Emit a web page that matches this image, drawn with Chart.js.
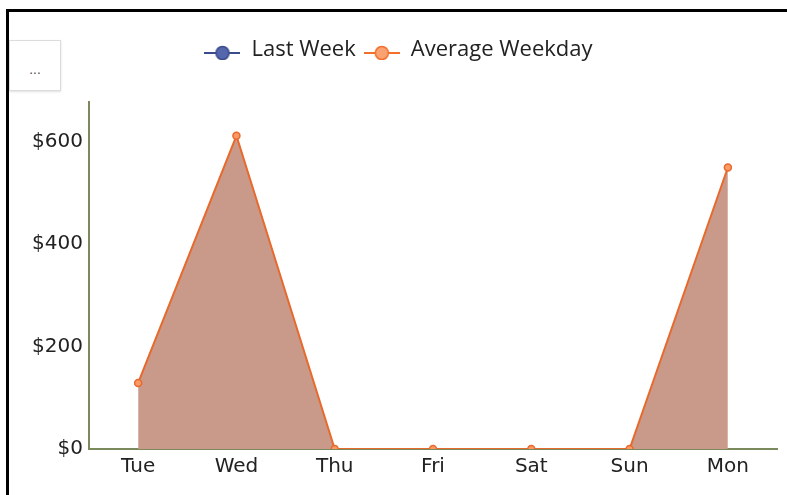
<!DOCTYPE html>
<html>
<head>
<meta charset="utf-8">
<script src="https://cdn.jsdelivr.net/npm/chart.js@4.4.1/dist/chart.umd.min.js"></script>
<style>
  html, body { margin: 0; padding: 0; background: #fff; }
  #frame {
    position: absolute; left: 6px; top: 9px; width: 790px; height: 500px;
    border-left: 3px solid #000; border-top: 3px solid #000;
  }
  #more {
    position: absolute; left: 9px; top: 40px; width: 50px; height: 49px;
    border: 1px solid #dcdcdc; background: #fff;
    box-shadow: 0 1px 2px rgba(0,0,0,0.12);
    font: 12px "DejaVu Sans", sans-serif; color: #444;
    text-align: center; line-height: 58px;
  }
  #wrap { position: absolute; left: 0; top: 0; width: 787px; height: 495px; }
</style>
</head>
<body>
<div id="frame"></div>
<div id="more">...</div>
<div id="wrap"><canvas id="chart"></canvas></div>
<script>
const days = ['Tue', 'Wed', 'Thu', 'Fri', 'Sat', 'Sun', 'Mon'];
const lastWeek = [null, null, null, null, null, null, null];
const averageWeekday = [129, 612, 0, 0, 0, 0, 550];
const yTicks = [0, 200, 400, 600];
const yMax = 678;

// legend marker: short line with a circle in the middle
function legendMarker(lineColor, fill, stroke) {
  const c = document.createElement('canvas');
  c.width = 36;
  c.height = 20;
  const g = c.getContext('2d');
  g.strokeStyle = lineColor;
  g.lineWidth = 2;
  g.beginPath();
  g.moveTo(0, 13);
  g.lineTo(36, 13);
  g.stroke();
  g.beginPath();
  g.arc(18, 13, 6.5, 0, Math.PI * 2);
  g.fillStyle = fill;
  g.fill();
  g.lineWidth = 1.5;
  g.strokeStyle = stroke;
  g.stroke();
  return c;
}
const blueMarker = legendMarker('#3b4c8c', '#5467ad', '#3b4c8c');
const orangeMarker = legendMarker('#f26f2c', '#fba272', '#f26f2c');

const axisColor = '#7a8a5c';
const textColor = '#222';

new Chart(document.getElementById('chart'), {
  type: 'line',
  data: {
    labels: days,
    datasets: [{
      label: 'Last Week',
      data: lastWeek,
      borderColor: '#3b4c8c',
      backgroundColor: '#5467ad'
    }, {
      label: 'Average Weekday',
      data: averageWeekday,
      borderColor: '#e8692c',
      borderWidth: 2,
      backgroundColor: '#c99a8a',
      fill: 'origin',
      tension: 0,
      pointRadius: 3.5,
      pointBackgroundColor: '#f99a66',
      pointBorderColor: '#e8692c',
      pointBorderWidth: 1.5
    }]
  },
  options: {
    responsive: true,
    maintainAspectRatio: false,
    animation: false,
    layout: { padding: { top: 31, right: 10, bottom: 0, left: 20 } },
    plugins: {
      legend: {
        display: true,
        position: 'top',
        labels: {
          usePointStyle: true,
          pointStyleWidth: 36,
          padding: 8,
          color: textColor,
          font: { family: 'Open Sans', size: 22 },
          generateLabels(chart) {
            const markers = [blueMarker, orangeMarker];
            return chart.data.datasets.map((ds, i) => ({
              text: ds.label,
              pointStyle: markers[i],
              fontColor: textColor,
              lineWidth: 0,
              datasetIndex: i
            }));
          }
        }
      },
      // empty title used only as spacing between legend and plot
      title: {
        display: true,
        text: ' ',
        weight: 100,
        padding: 0,
        font: { size: 31, lineHeight: 1 }
      },
      tooltip: { enabled: false }
    },
    scales: {
      x: {
        z: 1,
        offset: true,
        grid: { display: false, drawTicks: false },
        border: { display: true, color: axisColor, width: 2 },
        ticks: {
          color: textColor,
          padding: 6,
          font: { family: 'DejaVu Sans', size: 20 }
        },
        afterFit(scale) { scale.height = 46; }
      },
      y: {
        z: 1,
        min: 0,
        max: yMax,
        grid: { display: false, drawTicks: false },
        border: { display: true, color: axisColor, width: 2 },
        afterBuildTicks(scale) { scale.ticks = yTicks.map(v => ({ value: v })); },
        ticks: {
          color: textColor,
          padding: 6,
          font: { family: 'DejaVu Sans', size: 20 },
          callback: v => '$' + v
        },
        afterFit(scale) { scale.width = 69; }
      }
    }
  }
});
</script>
</body>
</html>
